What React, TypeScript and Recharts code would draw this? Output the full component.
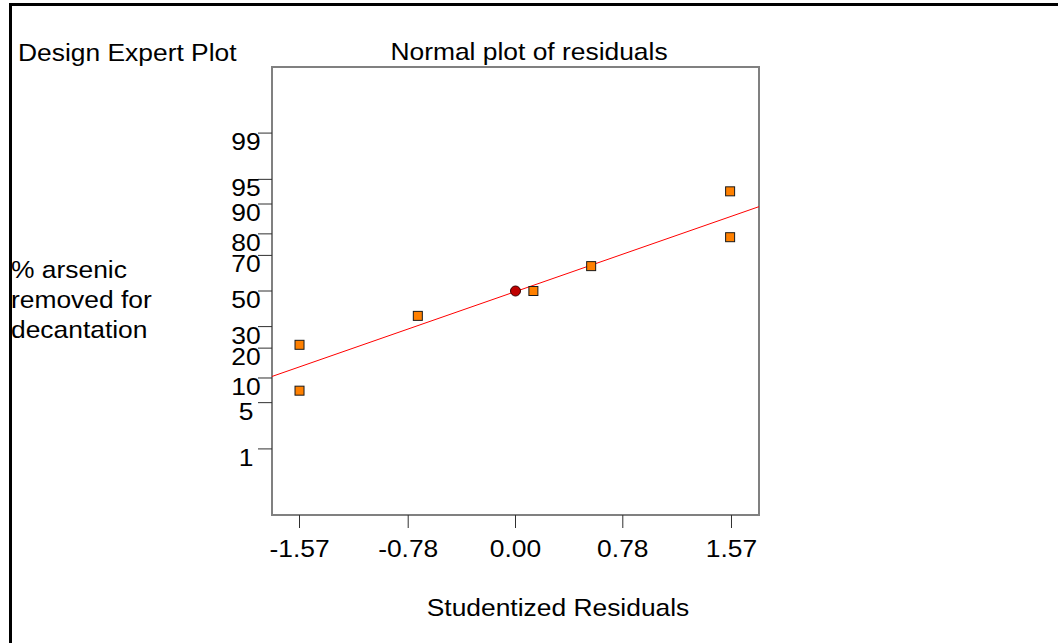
import React from 'react';
import { ScatterChart, Scatter, XAxis, YAxis, ReferenceArea } from 'recharts';

// Studentized residuals and their normal probability (%)
const residualX = [-1.57, -1.57, -0.71, 0.13, 0.55, 1.56, 1.56];
const residualPct = [7.1, 21.4, 35.7, 50, 64.3, 78.6, 92.9];

// Highlighted run
const highlightX = [0.0];
const highlightPct = [50];

// Reference line end points
const fitX = [-1.77, 1.77];
const fitPct = [10.4, 89.3];

// Axis ticks
const probTicks = [1, 5, 10, 20, 30, 50, 70, 80, 90, 95, 99];
const residTicks = [-1.57, -0.78, 0, 0.78, 1.57];
const xDomain: [number, number] = [-1.77, 1.77];
const zDomain: [number, number] = [-3.3, 3.3];

const FONT = 'Liberation Sans, Arial, Helvetica, sans-serif';
const FONT_SIZE = 24;
const STRETCH = 1.1;

// Inverse standard normal CDF (Acklam's rational approximation)
function probit(p: number): number {
  const a = [-3.969683028665376e1, 2.209460984245205e2, -2.759285104469687e2, 1.38357751867269e2, -3.066479806614716e1, 2.506628277459239];
  const b = [-5.447609879822406e1, 1.615858368580409e2, -1.556989798598866e2, 6.680131188771972e1, -1.328068155288572e1];
  const c = [-7.784894002430293e-3, -3.223964580411365e-1, -2.400758277161838, -2.549732539343734, 4.374664141464968, 2.938163982698783];
  const d = [7.784695709041462e-3, 3.224671290700398e-1, 2.445134137142996, 3.754408661907416];
  const pl = 0.02425;
  if (p < pl) {
    const q = Math.sqrt(-2 * Math.log(p));
    return (((((c[0] * q + c[1]) * q + c[2]) * q + c[3]) * q + c[4]) * q + c[5]) /
      ((((d[0] * q + d[1]) * q + d[2]) * q + d[3]) * q + 1);
  }
  if (p > 1 - pl) {
    const q = Math.sqrt(-2 * Math.log(1 - p));
    return -(((((c[0] * q + c[1]) * q + c[2]) * q + c[3]) * q + c[4]) * q + c[5]) /
      ((((d[0] * q + d[1]) * q + d[2]) * q + d[3]) * q + 1);
  }
  const q = p - 0.5;
  const r = q * q;
  return ((((((a[0] * r + a[1]) * r + a[2]) * r + a[3]) * r + a[4]) * r + a[5]) * q) /
    (((((b[0] * r + b[1]) * r + b[2]) * r + b[3]) * r + b[4]) * r + 1);
}

const toPoints = (xs: number[], pcts: number[]) =>
  xs.map((x, i) => ({ x, z: probit(pcts[i] / 100), pct: pcts[i] }));

const residualData = toPoints(residualX, residualPct);
const highlightData = toPoints(highlightX, highlightPct);
const fitData = toPoints(fitX, fitPct);
const probTickZ = probTicks.map((p) => probit(p / 100));

const StretchText = ({ x, y, anchor = 'middle', children }: any) => (
  <g transform={`translate(${x},${y})`}>
    <text
      transform={`scale(${STRETCH},1)`}
      textAnchor={anchor}
      fontSize={FONT_SIZE}
      fontFamily={FONT}
      fill="#000"
    >
      {children}
    </text>
  </g>
);

const YTick = (props: any) => {
  const { x, y, index } = props;
  return <StretchText x={x - 10} y={y + 17}>{probTicks[index]}</StretchText>;
};

const XTick = (props: any) => {
  const { x, y, payload } = props;
  return <StretchText x={x} y={y + 27}>{Number(payload.value).toFixed(2)}</StretchText>;
};

const SquareMark = (props: any) => {
  const { cx, cy } = props;
  return (
    <rect x={cx - 4.5} y={cy - 4.5} width={9} height={9} fill="#FF8000" stroke="#1a1a1a" strokeWidth={1} />
  );
};

const CircleMark = (props: any) => {
  const { cx, cy } = props;
  return <circle cx={cx} cy={cy} r={5} fill="#C00000" stroke="#3a0000" strokeWidth={1} />;
};

const NoMark = () => <g />;

export default function App() {
  return (
    <div style={{ position: 'absolute', left: 0, top: 0, width: 1058, height: 643, background: '#fff', overflow: 'hidden' }}>
      <div
        style={{
          position: 'absolute',
          left: 9,
          top: 3,
          width: 1058,
          height: 660,
          borderTop: '3px solid #000',
          borderLeft: '3px solid #000',
          boxSizing: 'border-box',
        }}
      />
      <div style={{ position: 'absolute', left: 0, top: 0 }}>
        <ScatterChart width={1058} height={643} margin={{ top: 67, right: 299, bottom: 88, left: 0 }}>
          <XAxis
            type="number"
            dataKey="x"
            domain={xDomain}
            ticks={residTicks}
            allowDataOverflow
            axisLine={false}
            tickSize={13}
            tickLine={{ stroke: '#303030', strokeWidth: 1 }}
            tick={<XTick />}
            height={40}
            interval={0}
          />
          <YAxis
            type="number"
            dataKey="z"
            domain={zDomain}
            ticks={probTickZ}
            allowDataOverflow
            axisLine={false}
            tickSize={14}
            tickLine={{ stroke: '#303030', strokeWidth: 1 }}
            tick={<YTick />}
            width={272}
            interval={0}
          />
          <ReferenceArea
            x1={xDomain[0]}
            x2={xDomain[1]}
            y1={zDomain[0]}
            y2={zDomain[1]}
            fill="none"
            fillOpacity={0}
            stroke="#808080"
            strokeWidth={2}
          />
          <Scatter
            data={fitData}
            line={{ stroke: '#FF0000', strokeWidth: 1 }}
            shape={<NoMark />}
            isAnimationActive={false}
          />
          <Scatter data={residualData} shape={<SquareMark />} isAnimationActive={false} />
          <Scatter data={highlightData} shape={<CircleMark />} isAnimationActive={false} />
          <StretchText x={18} y={61} anchor="start">Design Expert Plot</StretchText>
          <StretchText x={529} y={60}>Normal plot of residuals</StretchText>
          <StretchText x={558} y={616}>Studentized Residuals</StretchText>
          <StretchText x={11} y={278} anchor="start">% arsenic</StretchText>
          <StretchText x={11} y={308} anchor="start">removed for</StretchText>
          <StretchText x={11} y={338} anchor="start">decantation</StretchText>
        </ScatterChart>
      </div>
    </div>
  );
}
